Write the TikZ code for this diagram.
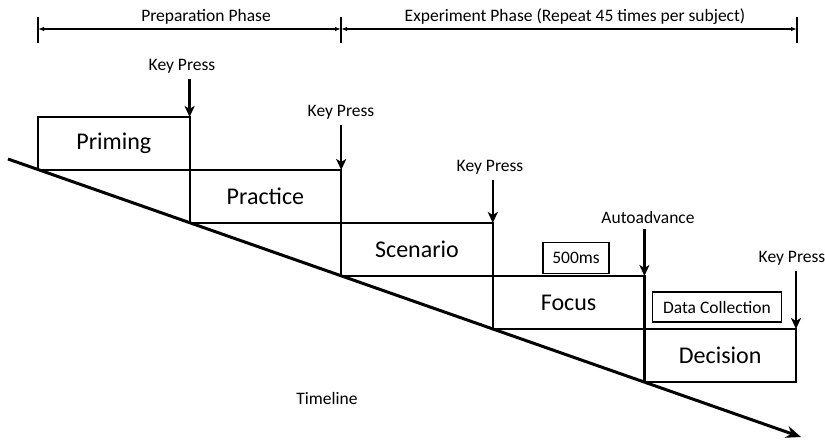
\documentclass[tikz,border=0pt]{standalone}
\usepackage{fontspec}
\setmainfont{Carlito}
\usetikzlibrary{arrows.meta,positioning}
\tikzset{
  phase/.style={draw,line width=2.2pt,minimum width=151.6pt,minimum height=53pt,
    inner sep=0pt,outer sep=0pt,font=\fontsize{24}{26}\selectfont},
  note/.style={inner sep=2pt,font=\fontsize{17.5}{19}\selectfont},
  tag/.style={draw,line width=1.4pt,inner sep=0pt,font=\fontsize{17.5}{19}\selectfont},
  press/.style={-{Stealth[length=11pt,width=10pt,inset=3pt]},line width=2.4pt,shorten <=4pt},
  span/.style={{Latex[length=6pt,width=4.5pt]}-{Latex[length=6pt,width=4.5pt]},line width=1.2pt},
}
\begin{document}
\begin{tikzpicture}[x=1pt,y=-1pt]
\useasboundingbox (0,0) rectangle (825,442);
% phases going down the timeline
\node[phase,anchor=north west] (priming) at (38,117) {Priming};
\node[phase,anchor=north west] (practice) at (priming.south east) {Practice};
\node[phase,anchor=north west] (scenario) at (practice.south east) {Scenario};
\node[phase,anchor=north west] (focus) at (scenario.south east) {Focus};
\node[phase,anchor=north west] (decision) at (focus.south east) {Decision};
% timeline
\path (8,159) coordinate (tl0) (801,437) coordinate (tl1);
\draw[line width=3pt,-{Stealth[length=15pt,width=12pt]}] (tl0) -- (tl1);
\node[note] (timeline) at (327,398) {Timeline};
% events
\node[note] (kp1) at (182,66) {Key Press};
\node[note] (kp2) at (341,112) {Key Press};
\node[note] (kp3) at (490,167) {Key Press};
\node[note] (auto) at (648,217) {Autoadvance};
\node[note] (kp4) at (792,258) {Key Press};
\foreach \l/\b in {kp1/priming,kp2/practice,kp3/scenario,auto/focus,kp4/decision}
  \draw[press] (\l.south -| \b.north east) -- (\b.north east);
\node[tag,minimum width=66pt,minimum height=31pt] (wait) at (576,258) {500ms};
\node[tag,minimum width=129pt,minimum height=30pt] (collect) at (717,307) {Data Collection};
% phase spans
\path (38,29) coordinate (d0) (341,29) coordinate (d1) (797,29) coordinate (d2);
\foreach \p in {d0,d1,d2} \draw[line width=1.2pt] ([yshift=12pt]\p) -- ([yshift=-14pt]\p);
\draw[span] (d0) -- (d1);
\draw[span] (d1) -- (d2);
\node[note] (prep) at (206,17) {Preparation Phase};
\node[note] (expt) at (575,17) {Experiment Phase (Repeat 45 times per subject)};
\end{tikzpicture}
\end{document}
